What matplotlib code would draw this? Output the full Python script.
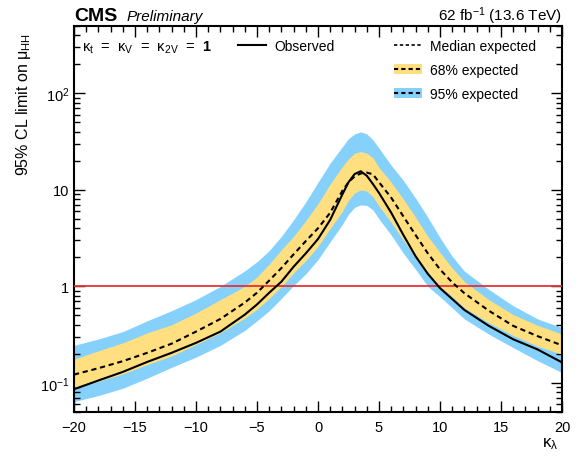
import matplotlib
matplotlib.use("Agg")
import matplotlib.pyplot as plt
from matplotlib.lines import Line2D
from matplotlib.patches import Patch
from matplotlib.ticker import FixedLocator, FixedFormatter, LogLocator, MultipleLocator, NullFormatter

plt.rcParams['font.family'] = ['Liberation Sans', 'DejaVu Sans']
plt.rcParams['mathtext.fontset'] = 'custom'
plt.rcParams['mathtext.rm'] = 'Liberation Sans'
plt.rcParams['mathtext.it'] = 'Liberation Sans:italic'
plt.rcParams['mathtext.bf'] = 'Liberation Sans:bold'

kl = [-20, -18, -16, -14, -12, -10, -8, -6, -5, -4, -3, -2, -1, 0, 1, 2, 2.5, 3, 3.5, 4, 4.5, 5,
      6, 7, 8, 9, 10, 11, 12, 14, 16, 18, 20]
observed = [0.086, 0.106, 0.13, 0.165, 0.205, 0.26, 0.34, 0.51, 0.65, 0.86, 1.12, 1.6, 2.2, 3.1, 4.9,
            9.0, 12.0, 14.6, 15.6, 14.0, 11.5, 9.3, 5.8, 3.4, 2.05, 1.35, 0.96, 0.74, 0.57, 0.39,
            0.283, 0.222, 0.163]
median = [0.122, 0.142, 0.168, 0.205, 0.255, 0.34, 0.46, 0.68, 0.86, 1.15, 1.55, 2.15, 2.95, 4.0, 5.8,
          9.8, 12.0, 13.8, 14.8, 15.1, 14.5, 12.0, 8.3, 5.3, 3.4, 2.2, 1.5, 1.1, 0.85, 0.56,
          0.39, 0.305, 0.245]
exp68_up = [0.176, 0.215, 0.26, 0.33, 0.40, 0.53, 0.73, 1.0, 1.25, 1.7, 2.4, 3.3, 4.8, 7.2, 11.5,
            17.5, 21.0, 24.0, 25.0, 24.0, 21.5, 17.0, 12.0, 8.0, 5.2, 3.3, 2.25, 1.55, 1.12, 0.73,
            0.51, 0.395, 0.32]
exp68_dn = [0.09, 0.104, 0.124, 0.155, 0.19, 0.25, 0.33, 0.47, 0.58, 0.75, 1.0, 1.38, 1.85, 2.6, 4.0,
            6.0, 7.8, 9.3, 10.0, 9.7, 8.5, 6.8, 4.6, 3.0, 2.0, 1.4, 1.0, 0.78, 0.6, 0.42, 0.31,
            0.24, 0.198]
exp95_up = [0.245, 0.285, 0.34, 0.44, 0.56, 0.73, 1.0, 1.45, 1.8, 2.35, 3.3, 4.9, 7.5, 12.0, 19.0,
            28.0, 34.0, 38.0, 40.0, 38.0, 33.0, 27.0, 18.0, 12.5, 8.2, 5.2, 3.2, 2.05, 1.44, 0.93,
            0.63, 0.46, 0.374]
exp95_dn = [0.064, 0.074, 0.088, 0.112, 0.145, 0.185, 0.245, 0.35, 0.44, 0.56, 0.75, 1.02, 1.35, 1.9,
            2.9, 4.4, 5.6, 6.6, 7.0, 6.9, 6.2, 5.0, 3.4, 2.2, 1.5, 1.0, 0.78, 0.6, 0.46, 0.32,
            0.232, 0.17, 0.128]

xticks = [-20, -15, -10, -5, 0, 5, 10, 15, 20]
xticklabels = ['\u221220', '\u221215', '\u221210', '\u22125', '0', '5', '10', '15', '20']
yticks = [0.1, 1, 10, 100]
yticklabels = ['$\\mathregular{10^{-1}}$', '1', '10', '$\\mathregular{10^{2}}$']

c68 = '#FFDF7F'
c95 = '#85D1FB'

fig = plt.figure(figsize=(5.8, 4.64), dpi=100)
ax = fig.add_axes([0.1276, 0.110, 0.969 - 0.1276, 0.832])

ax.fill_between(kl, exp95_dn, exp95_up, color=c95, lw=0, zorder=1)
ax.fill_between(kl, exp68_dn, exp68_up, color=c68, lw=0, zorder=2)
ax.plot(kl, median, color='black', lw=1.5, ls=(0, (2.5, 1.8)), zorder=4)
ax.plot(kl, observed, color='black', lw=1.5, ls='-', zorder=5)
ax.axhline(1.0, color='#E8303A', lw=1.3, zorder=3)

ax.set_yscale('log')
ax.set_xlim(-20, 20)
ax.set_ylim(0.05, 500)

ax.xaxis.set_major_locator(FixedLocator(xticks))
ax.xaxis.set_major_formatter(FixedFormatter(xticklabels))
ax.xaxis.set_minor_locator(MultipleLocator(1))
ax.yaxis.set_major_locator(FixedLocator(yticks))
ax.yaxis.set_major_formatter(FixedFormatter(yticklabels))
ax.yaxis.set_minor_locator(LogLocator(base=10, subs=range(2, 10)))
ax.yaxis.set_minor_formatter(NullFormatter())

ax.tick_params(which='both', direction='in', top=True, right=True, labelsize=10.5, width=1.0)
ax.tick_params(which='major', length=8)
ax.tick_params(which='minor', length=4)
ax.tick_params(axis='x', pad=6)
for s in ax.spines.values():
    s.set_linewidth(1.5)

ax.set_ylabel('95% CL limit on \u03bc$_{\\mathregular{HH}}$', fontsize=11.5)
ax.yaxis.set_label_coords(-0.085, 0.80)
ax.set_xlabel('\u03ba$_{\\mathregular{\u03bb}}$', fontsize=12)
ax.xaxis.set_label_coords(0.975, -0.06)

fig.text(0.1276, 0.955, 'CMS', fontsize=14, fontweight='bold', ha='left', va='baseline')
fig.text(0.219, 0.955, 'Preliminary', fontsize=11, style='italic', ha='left', va='baseline')
fig.text(0.969, 0.955, '62 fb$^{\\mathregular{-1}}$ (13.6 TeV)', fontsize=11, ha='right', va='baseline')

ax.text(0.016, 0.945, '\u03ba$_{\\mathregular{t}}$  =  \u03ba$_{\\mathregular{V}}$  =  \u03ba$_{\\mathregular{2V}}$  =  $\\mathbf{1}$',
        transform=ax.transAxes, fontsize=10.5, ha='left', va='center')

h_obs = Line2D([], [], color='black', lw=1.5)
leg1 = ax.legend([h_obs], ['Observed'], loc='upper left', bbox_to_anchor=(0.325, 0.98),
                 frameon=False, fontsize=10, handlelength=2.0, handletextpad=0.6, borderaxespad=0)
ax.add_artist(leg1)
h_med = Line2D([], [], color='black', lw=1.2, ls=(0, (2, 1.5)))
h68 = (Patch(facecolor=c68, edgecolor='none'), Line2D([], [], color='black', lw=1.5, ls=(0, (2, 1.5))))
h95 = (Patch(facecolor=c95, edgecolor='none'), Line2D([], [], color='black', lw=1.5, ls=(0, (2, 1.5))))
ax.legend([h_med, h68, h95], ['Median expected', '68% expected', '95% expected'],
          loc='upper left', bbox_to_anchor=(0.645, 0.98), frameon=False, fontsize=10,
          handlelength=2.0, handletextpad=0.6, labelspacing=0.7, borderaxespad=0)

fig.savefig('out.png', dpi=100)
